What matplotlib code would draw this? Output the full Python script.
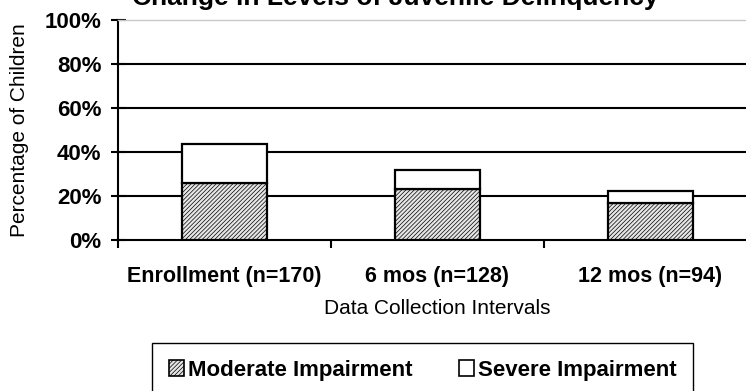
import matplotlib.pyplot as plt
import numpy as np
from matplotlib.patches import Patch

plt.rcParams["font.family"] = ["Liberation Sans", "DejaVu Sans"]
plt.rcParams["hatch.linewidth"] = 0.5
plt.rcParams["hatch.color"] = "#a8a8a8"

TITLE = "Change in Levels of Juvenile Delinquency"
CATEGORIES = ["Enrollment (n=170)", "6 mos (n=128)", "12 mos (n=94)"]
MODERATE = [26.0, 23.0, 17.0]
SEVERE = [17.5, 8.8, 5.1]
Y_TICKS = [0, 20, 40, 60, 80, 100]
Y_TICK_LABELS = ["0%", "20%", "40%", "60%", "80%", "100%"]
SERIES_LABELS = ["Moderate Impairment", "Severe Impairment"]

W, H = 746, 391
fig = plt.figure(figsize=(W / 100, H / 100), dpi=100)
ax = fig.add_axes([118 / W, 1 - 240 / H, (757 - 118) / W, 220 / H])

x = np.arange(len(CATEGORIES))
width = 0.40
mod_fill = "#e6e6e6"
ax.bar(x, MODERATE, width, facecolor=mod_fill, edgecolor="black",
       linewidth=1.6, hatch="////////", zorder=3)
ax.bar(x, SEVERE, width, bottom=MODERATE, facecolor="white",
       edgecolor="black", linewidth=1.6, zorder=3)

ax.set_xlim(-0.5, len(CATEGORIES) - 0.5)
ax.set_ylim(0, 100)
ax.set_yticks(Y_TICKS)
ax.set_yticklabels(Y_TICK_LABELS, fontsize=16, fontweight="bold")
for level in Y_TICKS[1:-1]:
    ax.axhline(level, color="black", linewidth=1.5, zorder=1)

ax.set_xticks(x)
ax.set_xticklabels(CATEGORIES, fontsize=15.5, fontweight="bold")
ax.set_xticks(np.arange(len(CATEGORIES) + 1) - 0.5, minor=True)
ax.tick_params(axis="x", which="major", length=0, pad=19)
ax.tick_params(axis="x", which="minor", length=5.8, width=1.5, direction="out")
ax.tick_params(axis="y", length=10.8, width=1.5, direction="inout", pad=6.5)

for side in ["left", "bottom"]:
    ax.spines[side].set_linewidth(1.5)
ax.spines["right"].set_visible(False)
ax.spines["top"].set_color("#c8c8c8")
ax.spines["top"].set_linewidth(1.0)

ax.set_xlabel("Data Collection Intervals", fontsize=15, labelpad=8.5)
ax.set_ylabel("Percentage of Children", fontsize=15)
ax.yaxis.set_label_coords(-0.139, 0.5)

fig.text(395 / W, 1 - 5 / H, TITLE, ha="center", va="baseline",
         fontsize=19, fontweight="bold")

handles = [
    Patch(facecolor=mod_fill, edgecolor="black", hatch="////////", linewidth=1.2),
    Patch(facecolor="white", edgecolor="black", linewidth=1.2),
]
leg = fig.legend(handles, SERIES_LABELS, ncol=2,
                 loc="upper left",
                 bbox_to_anchor=(152 / W, 1 - 395 / H, (693 - 152) / W, 52 / H),
                 mode="expand", fancybox=False, framealpha=1,
                 edgecolor="black", borderpad=0.75, borderaxespad=0,
                 handlelength=0.7, handleheight=0.7, handletextpad=0.15,
                 prop={"size": 16, "weight": "bold"})
leg.get_frame().set_linewidth(1.0)

fig.savefig("out.png", dpi=100)
